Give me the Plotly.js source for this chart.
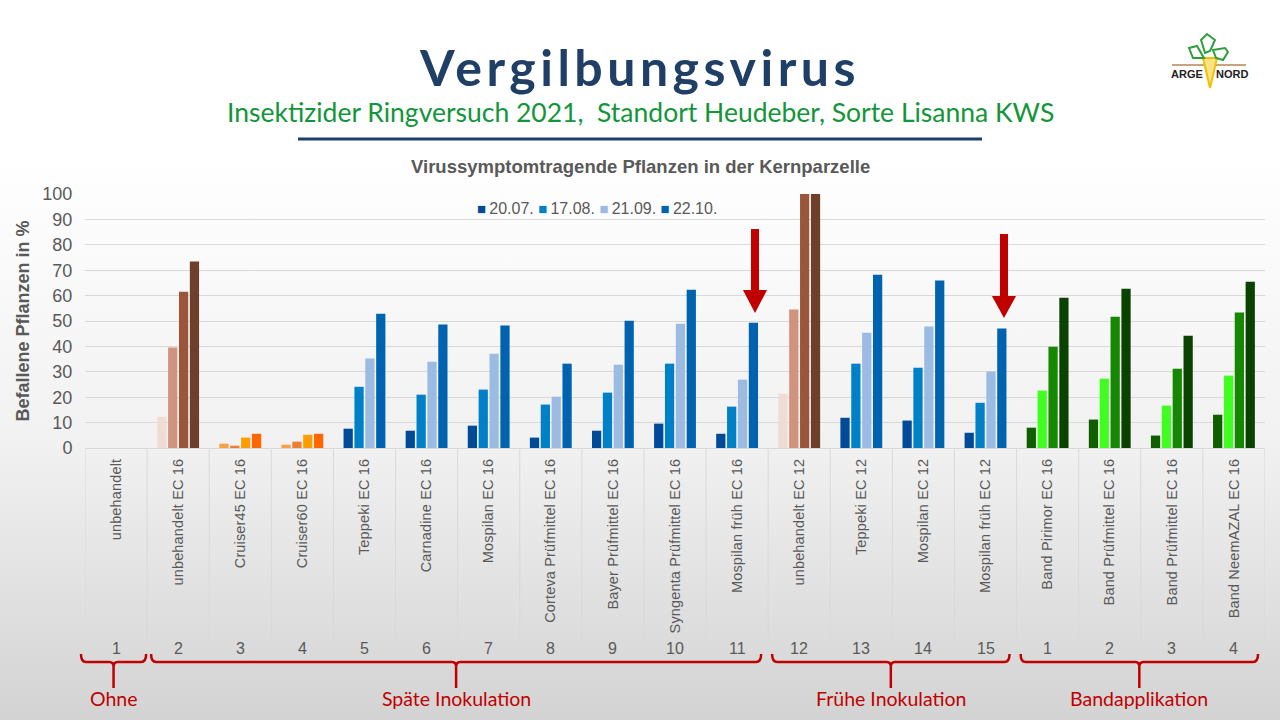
<!DOCTYPE html>
<html>
<head>
<meta charset="utf-8">
<script src="https://cdn.plot.ly/plotly-3.0.1.min.js"></script>
<style>
  html, body { margin: 0; padding: 0; }
  body {
    width: 1280px; height: 720px; overflow: hidden;
    background: linear-gradient(to bottom, #ffffff 0%, #ffffff 22%, #f1f1f1 62%, #d3d3d3 100%);
  }
  #chart { width: 1280px; height: 720px; }
  .gtitle { letter-spacing: 4.5px; }
  .xtick text { letter-spacing: 0.15px; }
</style>
</head>
<body>
<div id="chart"></div>
<script>
// categories (x axis) and the small numbers below them
var categories = ['unbehandelt', 'unbehandelt EC 16', 'Cruiser45 EC 16', 'Cruiser60 EC 16',
                  'Teppeki EC 16', 'Carnadine EC 16', 'Mospilan EC 16', 'Corteva Prüfmittel EC 16',
                  'Bayer Prüfmittel EC 16', 'Syngenta Prüfmittel EC 16', 'Mospilan früh EC 16',
                  'unbehandelt EC 12', 'Teppeki EC 12', 'Mospilan EC 12', 'Mospilan früh EC 12',
                  'Band Pirimor EC 16', 'Band Prüfmittel EC 16', 'Band Prüfmittel EC 16',
                  'Band NeemAZAL EC 16'];
var numbers = ['1', '2', '3', '4', '5', '6', '7', '8', '9', '10', '11', '12', '13', '14', '15',
               '1', '2', '3', '4'];

var dates = ['20.07.', '17.08.', '21.09.', '22.10.'];
var v_2007 = [0, 12.3, 1.7, 1.3, 7.6, 6.8, 8.8, 4.1, 6.8, 9.6, 5.6, 21.4, 11.9, 10.8, 6.0, 8.0, 11.2, 4.9, 13.1];
var v_1708 = [0, 39.6, 0.9, 2.5, 24.1, 21.0, 23.0, 17.1, 21.8, 33.2, 16.3, 54.5, 33.2, 31.6, 17.8, 22.6, 27.3, 16.7, 28.5];
var v_2109 = [0, 61.5, 4.1, 5.2, 35.2, 34.0, 37.1, 20.2, 32.8, 48.9, 26.9, 100, 45.4, 47.8, 30.1, 39.9, 51.7, 31.2, 53.3];
var v_2210 = [0, 73.4, 5.6, 5.6, 52.9, 48.6, 48.2, 33.2, 50.1, 62.3, 49.3, 100, 68.2, 65.9, 47.0, 59.2, 62.7, 44.2, 65.5];

// groups under the axis: label, first and last category index
var group_labels = ['Ohne', 'Späte Inokulation', 'Frühe Inokulation', 'Bandapplikation'];
var group_first = [0, 1, 11, 15];
var group_last = [0, 10, 14, 18];

// colour scheme of each category
var scheme = ['brown', 'brown', 'orange', 'orange', 'blue', 'blue', 'blue', 'blue', 'blue', 'blue',
              'blue', 'brown', 'blue', 'blue', 'blue', 'green', 'green', 'green', 'green'];
var palettes = {
  brown:  ['#EFDCD5', '#D0937D', '#9A553A', '#6E3F29'],
  orange: ['#F8A044', '#ED7D31', '#FF9C00', '#FF6600'],
  blue:   ['#004A98', '#0080C7', '#9BBBE3', '#0063AF'],
  green:  ['#0F5F00', '#40FF20', '#168700', '#0A4200']
};

var W = 1280, H = 720;
var M = {l: 85, r: 15, t: 194, b: 272};
var PW = W - M.l - M.r, PH = H - M.t - M.b;
function fx(px) { return (px - M.l) / PW; }
function fy(py) { return (H - M.b - py) / PH; }
function pt(x, y) { return fx(x).toFixed(4) + ',' + fy(y).toFixed(4); }

var red = '#C00000';
var grey = '#595959';
var idx = categories.map(function (c, i) { return i; });
var series = [v_2007, v_1708, v_2109, v_2210];

var traces = [];
series.forEach(function (vals, k) {
  traces.push({
    type: 'bar',
    x: idx,
    y: vals,
    name: dates[k],
    marker: {color: scheme.map(function (s) { return palettes[s][k]; })},
    hovertemplate: '%{y}<extra>' + dates[k] + '</extra>'
  });
});

var shapes = [];
// vertical separators in the category area
for (var i = 0; i <= categories.length; i++) {
  shapes.push({type: 'line', xref: 'x', yref: 'paper', x0: i - 0.5, x1: i - 0.5,
               y0: fy(448), y1: fy(640), line: {color: '#d9d9d9', width: 1}});
}
// braces
function brace(x0, x1, c) {
  var top = 654, mid = 662, bot = 688;
  return 'M' + pt(x0, top) + ' Q' + pt(x0, mid) + ' ' + pt(x0 + 5, mid) +
         ' L' + pt(c - 4, mid) + ' Q' + pt(c, mid) + ' ' + pt(c, mid + 5) +
         ' L' + pt(c, bot) + ' M' + pt(c, mid + 5) + ' Q' + pt(c, mid) + ' ' + pt(c + 4, mid) +
         ' L' + pt(x1 - 5, mid) + ' Q' + pt(x1, mid) + ' ' + pt(x1, top);
}
var step = PW / categories.length;
var annotations = [];
group_labels.forEach(function (g, k) {
  var x0 = M.l + step * group_first[k] + 4;
  var x1 = M.l + step * (group_last[k] + 1) - 7;
  if (k === 0) { x0 = M.l - 4; x1 = M.l + step - 1; }
  var c = (x0 + x1) / 2;
  shapes.push({type: 'path', xref: 'paper', yref: 'paper', path: brace(x0, x1, c),
               line: {color: red, width: 2.5}});
  annotations.push({xref: 'paper', yref: 'paper', x: fx(c), y: fy(698), text: g, showarrow: false,
                    xanchor: 'center', yanchor: 'middle',
                    font: {family: 'Lato, sans-serif', size: 19.5, color: red}});
});
// numbers below the labels
numbers.forEach(function (n, i) {
  annotations.push({xref: 'x', yref: 'paper', x: i, y: fy(648), text: n, showarrow: false,
                    xanchor: 'center', yanchor: 'middle',
                    font: {family: 'Liberation Sans, Arial, sans-serif', size: 16, color: grey}});
});
// legend line (blue squares like in the original)
var legend_text = dates.map(function (d, k) {
  return '<span style="color:' + palettes.blue[k] + ';font-size:15px">■</span>\u2009' + d;
}).join(' ');
annotations.push({xref: 'paper', yref: 'paper', x: fx(597), y: fy(208), text: legend_text, showarrow: false,
                  xanchor: 'center', yanchor: 'middle',
                  font: {family: 'Liberation Sans, Arial', size: 16, color: grey}});
// red arrows
function arrow(cx, y0, yh, tip) {
  return 'M' + pt(cx - 4, y0) + ' L' + pt(cx + 4, y0) + ' L' + pt(cx + 4, yh) + ' L' + pt(cx + 12, yh) +
         ' L' + pt(cx, tip) + ' L' + pt(cx - 12, yh) + ' L' + pt(cx - 4, yh) + ' Z';
}
shapes.push({type: 'path', xref: 'paper', yref: 'paper', path: arrow(755, 229, 290, 313),
             fillcolor: red, line: {width: 0}});
shapes.push({type: 'path', xref: 'paper', yref: 'paper', path: arrow(1004, 234, 296, 318),
             fillcolor: red, line: {width: 0}});
// line under the subtitle
shapes.push({type: 'line', xref: 'paper', yref: 'paper', x0: fx(298), x1: fx(982), y0: fy(139), y1: fy(139),
             line: {color: '#1F3F66', width: 3}});
// logo
shapes.push({type: 'line', xref: 'paper', yref: 'paper', x0: fx(1172), x1: fx(1246), y0: fy(65), y1: fy(65),
             line: {color: '#C9A47E', width: 2}});
shapes.push({type: 'path', xref: 'paper', yref: 'paper',
             path: 'M' + pt(1203, 58) + ' L' + pt(1217, 58) + ' L' + pt(1210, 88) + ' Z',
             fillcolor: '#FBE38A', line: {color: '#F2C200', width: 2}});
var leaves = [
  [[1189, 48], [1197, 46], [1204, 58], [1193, 58]],
  [[1201, 40], [1207, 34], [1215, 40], [1210, 51], [1205, 53]],
  [[1213, 50], [1225, 48], [1228, 52], [1223, 60], [1216, 58]]
];
leaves.forEach(function (lf) {
  shapes.push({type: 'path', xref: 'paper', yref: 'paper',
               path: 'M' + lf.map(function (p) { return pt(p[0], p[1]); }).join(' L') + ' Z',
               line: {color: '#2E9E3A', width: 2}});
});
annotations.push({xref: 'paper', yref: 'paper', x: fx(1187), y: fy(74), text: '<b>ARGE</b>', showarrow: false,
                  xanchor: 'center', yanchor: 'middle',
                  font: {family: 'Liberation Sans, Arial', size: 11, color: '#222'}});
annotations.push({xref: 'paper', yref: 'paper', x: fx(1232), y: fy(74), text: '<b>NORD</b>', showarrow: false,
                  xanchor: 'center', yanchor: 'middle',
                  font: {family: 'Liberation Sans, Arial', size: 11, color: '#222'}});
// subtitle and chart title
annotations.push({xref: 'paper', yref: 'paper', x: fx(640), y: fy(112), showarrow: false,
                  text: 'Insektizider Ringversuch 2021,  Standort Heudeber, Sorte Lisanna KWS',
                  xanchor: 'center', yanchor: 'middle',
                  font: {family: 'Lato, sans-serif', size: 26.5, color: '#13953A'}});
annotations.push({xref: 'paper', yref: 'paper', x: fx(640), y: fy(166), showarrow: false,
                  text: '<b>Virussymptomtragende Pflanzen in der Kernparzelle</b>',
                  xanchor: 'center', yanchor: 'middle',
                  font: {family: 'Liberation Sans, Arial', size: 18.5, color: grey}});

var layout = {
  width: W, height: H,
  margin: M,
  paper_bgcolor: 'rgba(0,0,0,0)',
  plot_bgcolor: 'rgba(0,0,0,0)',
  title: {
    text: '<b>Vergilbungsvirus</b>',
    x: 0.5, xanchor: 'center', y: 1 - 68 / H, yanchor: 'middle',
    font: {family: 'Lato, sans-serif', size: 50, color: '#1F3F66'}
  },
  barmode: 'group',
  bargap: 0.3,
  bargroupgap: 0.15,
  showlegend: false,
  xaxis: {
    range: [-0.5, categories.length - 0.5],
    tickvals: idx, ticktext: categories,
    tickangle: -90,
    ticks: 'outside', ticklen: 4, tickcolor: 'rgba(0,0,0,0)',
    showgrid: false, zeroline: false,
    showline: true, linecolor: '#d9d9d9', linewidth: 1,
    tickfont: {family: 'Liberation Sans, Arial', size: 14.5, color: grey},
    fixedrange: true
  },
  yaxis: {
    range: [0, 100],
    dtick: 10,
    ticks: 'outside', ticklen: 8, tickcolor: 'rgba(0,0,0,0)',
    gridcolor: '#d9d9d9', zeroline: false,
    tickfont: {family: 'Liberation Sans, Arial', size: 18, color: grey},
    title: {text: '<b>Befallene Pflanzen in %</b>', standoff: 8,
            font: {family: 'Liberation Sans, Arial', size: 18, color: grey}},
    fixedrange: true
  },
  shapes: shapes,
  annotations: annotations
};

Plotly.newPlot('chart', traces, layout, {displaylogo: false, displayModeBar: false});
</script>
</body>
</html>
